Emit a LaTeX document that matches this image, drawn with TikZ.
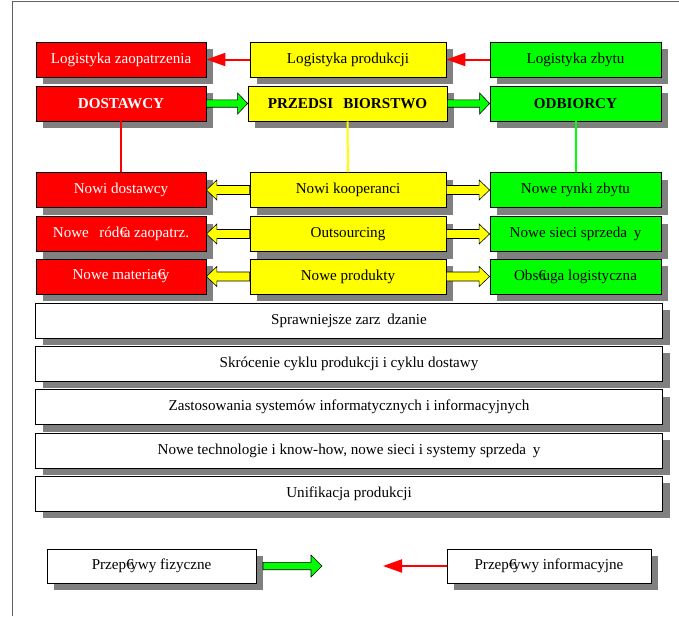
\documentclass[tikz,border=0pt]{standalone}
\usepackage{fontspec}
\setmainfont{Liberation Serif}
\usetikzlibrary{calc,shadows,arrows.meta}
\definecolor{shgray}{HTML}{808080}
\definecolor{framegray}{HTML}{606060}
\definecolor{bred}{HTML}{FF0000}
\definecolor{byellow}{HTML}{FFFF00}
\definecolor{bgreen}{HTML}{00FF00}
\newcommand\eu{\makebox[0.278em][l]{€}}
\newcommand\gap[1]{\hspace*{#1em}}
\newcommand\barrow[6]{%
  \draw[fill=#6,line width=0.6pt] let \p1=(#1),\p2=(#2) in
   (\x1,{\y1+#3pt}) -- ({\x2-(#5pt)},{\y1+#3pt}) -- ({\x2-(#5pt)},{\y1+#4pt})
   -- (\x2,\y1) -- ({\x2-(#5pt)},{\y1-#4pt}) -- ({\x2-(#5pt)},{\y1-#3pt})
   -- (\x1,{\y1-#3pt}) -- cycle;}
\begin{document}
\begin{tikzpicture}[x=1pt,y=-1pt,font=\fontsize{15.1}{17}\selectfont,
  box/.style={draw=black,line width=0.8pt,inner sep=0pt,minimum height=35pt,align=center,
    drop shadow={shadow xshift=7pt,shadow yshift=-7pt,fill=shgray,opacity=1}},
  redbox/.style={box,fill=bred,text=white,minimum width=170pt},
  yellowbox/.style={box,fill=byellow,text=black,minimum width=196pt},
  greenbox/.style={box,fill=bgreen,text=black,minimum width=171pt},
  widebox/.style={box,fill=white,minimum width=627pt},
  legbox/.style={box,fill=white,minimum height=34pt},
  boldtext/.style={font=\fontsize{15.1}{17}\selectfont\bfseries},
  redarrow/.style={bred,line width=2pt,-{Triangle[length=19pt,width=13pt]}},
  vline/.style={line width=2pt}]
\useasboundingbox (0,0) rectangle (679,616);
\fill[white] (0,0) rectangle (679,616);
\draw[framegray,line width=1.2pt] (12.7,616) -- (12.7,1.7) -- (679,1.7);
% row 1
\node[redbox] (lz) at (121,59.5) {Logistyka zaopatrzenia};
\node[yellowbox] (lp) at (348,59.5) {Logistyka produkcji};
\node[greenbox] (lzb) at (575.5,59.5) {Logistyka zbytu};
% row 2
\node[redbox,boldtext] (dost) at (121,103.5) {DOSTAWCY};
\node[yellowbox,minimum width=199pt,boldtext] (przed) at (347.5,103.5) {PRZEDSI\gap{0.667}BIORSTWO};
\node[greenbox,boldtext] (odb) at (575.5,103.5) {ODBIORCY};
% row 3
\node[redbox] (nd) at (121,190) {Nowi dostawcy};
\node[yellowbox] (nk) at (348,190) {Nowi kooperanci};
\node[greenbox] (nr) at (575.5,190) {Nowe rynki zbytu};
% row 4
\node[redbox] (nz) at (121,234) {Nowe\gap{0.694}ród\eu a zaopatrz.};
\node[yellowbox] (out) at (348,234) {Outsourcing};
\node[greenbox] (ns) at (575.5,234) {Nowe sieci sprzeda\gap{0.444}y};
% row 5
\node[redbox] (nm) at (121,276.5) {Nowe materia\eu y};
\node[yellowbox] (np) at (348,276.5) {Nowe produkty};
\node[greenbox] (ol) at (575.5,276.5) {Obs\eu uga logistyczna};
% wide boxes
\node[widebox] (w1) at (349,320.5) {Sprawniejsze zarz\gap{0.444}dzanie};
\node[widebox] (w2) at (349,363.5) {Skrócenie cyklu produkcji i cyklu dostawy};
\node[widebox] (w3) at (349,407) {Zastosowania systemów informatycznych i informacyjnych};
\node[widebox] (w4) at (349,450.5) {Nowe technologie i know-how, nowe sieci i systemy sprzeda\gap{0.444}y};
\node[widebox] (w5) at (349,493.5) {Unifikacja produkcji};
% legend
\node[legbox,minimum width=209pt] (pf) at (151.5,566) {Przep\eu ywy fizyczne};
\node[legbox,minimum width=204pt] (pi) at (549,566) {Przep\eu ywy informacyjne};
\coordinate (gt) at (263,566);
\coordinate (gh) at (322,566);
\coordinate (rt) at (383,566);
% connectors
\draw[redarrow] (lp.west) -- (lz.east);
\draw[redarrow] (lzb.west) -- (lp.east);
\barrow{dost.east}{przed.west}{3.7}{10.5}{10}{bgreen}
\barrow{przed.east}{odb.west}{3.7}{10.5}{10}{bgreen}
\draw[vline,bred] (dost.south) -- (nd.north);
\draw[vline,byellow] (przed.south) -- (nk.north);
\draw[vline,bgreen] (odb.south) -- (nr.north);
\barrow{nk.west}{nd.east}{4.5}{10}{-10.5}{byellow}
\barrow{nk.east}{nr.west}{4.5}{10}{10.5}{byellow}
\barrow{out.west}{nz.east}{4.5}{10}{-10.5}{byellow}
\barrow{out.east}{ns.west}{4.5}{10}{10.5}{byellow}
\barrow{np.west}{nm.east}{4.5}{10}{-10.5}{byellow}
\barrow{np.east}{ol.west}{4.5}{10}{10.5}{byellow}
\barrow{gt}{gh}{3.7}{11}{11}{bgreen}
\draw[redarrow] (pi.west) -- (rt);
\end{tikzpicture}
\end{document}
